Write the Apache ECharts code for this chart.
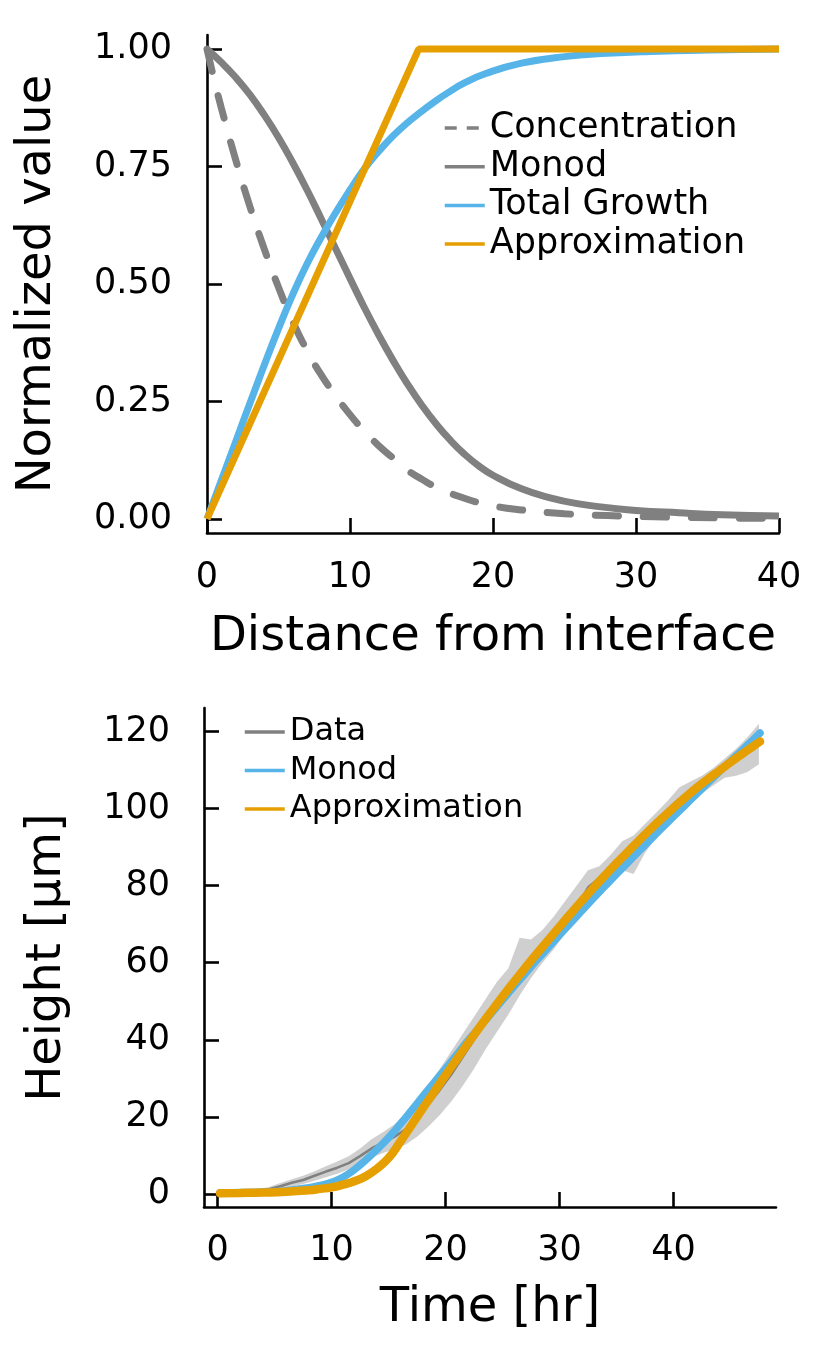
<!DOCTYPE html>
<html>
<head>
<meta charset="utf-8">
<script src="https://cdn.jsdelivr.net/npm/echarts@6/dist/echarts.min.js"></script>
<style>
html,body{margin:0;padding:0;background:#fff;}
#chart{width:813px;height:1350px;}
</style>
</head>
<body>
<div id="chart"></div>
<script>
// ---------- Top panel data ----------
const concX   = [0,0.5,1,2,3,4,5,6,7,8,9,10,11,12,13,14,15,16,18,20,22,25,28,32,36,40];
const concY   = [1.0,0.935,0.875,0.765,0.665,0.575,0.493,0.42,0.358,0.306,0.262,0.222,0.187,0.156,0.13,0.104,0.085,0.068,0.044,0.028,0.019,0.011,0.007,0.004,0.002,0.001];
const monodX  = [0,1,2,3,4,5,6,7,8,9,10,11,12,13,14,15,16,17,18,19,20,22,24,26,28,30,33,36,40];
const monodY  = [1.0,0.972,0.94,0.903,0.86,0.812,0.758,0.70,0.638,0.575,0.512,0.45,0.392,0.338,0.288,0.243,0.203,0.168,0.138,0.113,0.093,0.064,0.045,0.032,0.024,0.018,0.013,0.009,0.006];
const growthX = [0,1,2,3,4,5,6,7,8,9,10,11,12,13,14,15,16,17,18,19.5,22,25,28,31,35,40];
const growthY = [0,0.082,0.164,0.246,0.327,0.405,0.478,0.543,0.60,0.652,0.70,0.745,0.782,0.815,0.843,0.867,0.89,0.91,0.928,0.948,0.97,0.984,0.991,0.995,0.998,1.0];
const approxX = [0,14.8,40];
const approxY = [0,1,1];
const topXTicks = [0,10,20,30,40];
const topYTicks = [0,0.25,0.5,0.75,1.0];

// ---------- Bottom panel data ----------
const timeT   = [0.5,1.5,2.5,3.5,4.5,5.5,6.5,7.5,8.5,9.5,10.5,11.5,12.5,13.5,14.5,15.5,16.5,17.5,18.5,19.5,20.5,21.5,22.5,23.5,24.5,25.5,26.5,27.5,28.5,29.5,30.5,31.5,32.5,33.5,34.5,35.5,36.5,37.5,38.5,39.5,40.5,41.5,42.5,43.5,44.5,45.5,46.5,47.5];
const dataMean= [0.4,0.4,0.5,0.8,1.2,2.0,2.9,3.6,4.7,5.8,6.8,8.0,9.8,11.8,13.3,14.8,16.8,19.5,23.2,27.0,31.0,35.5,40.0,44.3,48.5,52.3,56.5,60.0,63.5,67.0,70.8,74.5,79.5,82.0,85.0,88.0,89.5,93.5,96.5,99.8,102.5,104.5,106.5,108.5,110.5,112.5,114.5,117.0];
const dataLow = [0.1,0.1,0.2,0.4,0.7,1.2,1.9,2.6,3.4,4.3,5.2,6.3,7.8,9.4,10.6,11.6,12.8,14.8,17.5,20.5,24.0,28.0,32.5,37.5,42.0,46.5,51.5,56.0,60.0,63.5,67.5,71.5,76.0,79.5,82.0,84.0,83.0,88.5,92.5,96.5,99.0,101.5,104.0,106.0,108.0,108.5,109.5,111.5];
const dataHigh= [0.7,0.7,0.8,1.2,1.8,2.8,3.8,4.7,5.9,7.2,8.4,9.8,11.8,14.2,16.0,18.0,20.8,24.2,28.5,32.5,37.0,41.5,46.0,50.5,55.0,58.5,66.5,66.0,68.5,72.0,76.0,80.0,84.0,85.0,88.0,91.5,93.0,96.0,99.0,102.0,105.5,107.0,108.5,110.5,113.0,115.5,118.5,122.0];
const fitT    = [0.2,2,4,6,8,9,10,11,12,13,14,15,16,17,18,19,20,21,22,23,24,25,26,27,28,29,30,31,32,33,34,35,36,37,38,39,40,41,42,43,44,45,46,47,47.6];
const monodFit= [0.3,0.35,0.5,0.85,1.6,2.2,3.0,4.3,6.3,8.8,11.6,14.6,18.0,21.6,25.3,28.9,32.5,36.2,39.9,43.3,46.8,50.3,53.8,57.2,60.6,63.9,67.2,70.4,73.6,76.8,79.9,83.0,86.0,89.0,92.0,95.0,97.9,100.8,103.7,106.6,109.5,112.3,115.1,117.9,119.6];
const approxFit=[0.2,0.25,0.35,0.55,0.95,1.3,1.7,2.4,3.3,4.6,6.6,9.3,13.4,17.8,22.2,26.5,30.8,35.0,39.2,43.3,47.3,51.2,55.0,58.7,62.3,65.8,69.3,72.8,76.2,79.5,82.7,85.8,88.8,91.8,94.7,97.5,100.2,102.8,105.3,107.6,109.8,112.0,114.1,116.2,117.4];
const botXTicks = [0,10,20,30,40];
const botYTicks = [0,20,40,60,80,100,120];

// ---------- helpers ----------
const zip = (xs, ys) => xs.map((x, i) => [x, ys[i]]);
const FONT = 'DejaVu Sans';
const GRAY = '#808080', BLUE = '#56B4E9', ORANGE = '#E69F00';

function axisBase(ticks, fmt, margin) {
  return {
    splitLine: {show: false},
    axisLine: {show: true, onZero: false, lineStyle: {color: '#000', width: 2.6}},
    axisTick: {show: true, inside: true, length: 15, lineStyle: {color: '#000', width: 2.6}, customValues: ticks},
    axisLabel: {customValues: ticks, formatter: fmt, fontSize: 35, fontFamily: FONT, color: '#000', margin: margin},
    nameTextStyle: {fontSize: 48, fontFamily: FONT, color: '#000'},
    nameLocation: 'middle'
  };
}

function ribbonItem(params, api) {
  if (params.dataIndex !== 0) return null;
  const pts = [];
  for (let i = 0; i < timeT.length; i++) pts.push(api.coord([timeT[i], dataHigh[i]]));
  for (let i = timeT.length - 1; i >= 0; i--) pts.push(api.coord([timeT[i], dataLow[i]]));
  return {type: 'polygon', shape: {points: pts}, style: {fill: 'rgba(128,128,128,0.38)', stroke: null}, silent: true};
}

const legendLine = {width: 3.5, cap: 'butt'};

const chart = echarts.init(document.getElementById('chart'), null, {renderer: 'canvas'});
const option = {
  backgroundColor: '#fff',
  animation: false,
  grid: [
    {left: 207, top: 35, width: 572, height: 498},
    {left: 204, top: 708, width: 572, height: 499}
  ],
  xAxis: [
    Object.assign(axisBase(topXTicks, v => String(v), 27), {type: 'value', gridIndex: 0, min: 0, max: 40, name: 'Distance from interface', nameGap: 81}),
    Object.assign(axisBase(botXTicks, v => String(v), 26), {type: 'value', gridIndex: 1, min: -1.2, max: 49.0, name: 'Time [hr]', nameGap: 78})
  ],
  yAxis: [
    Object.assign(axisBase(topYTicks, v => v.toFixed(2), 35), {type: 'value', gridIndex: 0, min: -0.03, max: 1.03, name: 'Normalized value', nameGap: 145}),
    Object.assign(axisBase(botYTicks, v => String(v), 34), {type: 'value', gridIndex: 1, min: -3.4, max: 126.1, name: 'Height [µm]', nameGap: 132})
  ],
  legend: [
    {
      orient: 'vertical', left: 443, top: 109, padding: 0, itemGap: 0.7,
      itemWidth: 40, itemHeight: 14,
      itemStyle: {opacity: 0},
      textStyle: {fontSize: 35, fontFamily: FONT, color: '#000', lineHeight: 38},
      lineStyle: legendLine,
      data: [
        {name: 'Concentration', lineStyle: {type: [12, 10], cap: 'butt', width: 3.5}},
        {name: 'Monod', lineStyle: legendLine},
        {name: 'Total Growth', lineStyle: legendLine},
        {name: 'Approximation', lineStyle: legendLine}
      ]
    },
    {
      orient: 'vertical', left: 243, top: 713, padding: 0, itemGap: 0.5,
      itemWidth: 40, itemHeight: 14,
      itemStyle: {opacity: 0},
      textStyle: {fontSize: 32, fontFamily: FONT, color: '#000', lineHeight: 38},
      lineStyle: legendLine,
      formatter: n => n.trim(),
      data: [
        {name: 'Data', lineStyle: legendLine},
        {name: 'Monod ', lineStyle: legendLine},
        {name: 'Approximation ', lineStyle: legendLine}
      ]
    }
  ],
  series: [
    {name: 'Concentration', type: 'line', xAxisIndex: 0, yAxisIndex: 0, symbol: 'none', smooth: 0.5,
     color: GRAY, lineStyle: {color: GRAY, width: 7, type: [23, 25], cap: 'round'}, data: zip(concX, concY)},
    {name: 'Monod', type: 'line', xAxisIndex: 0, yAxisIndex: 0, symbol: 'none', smooth: 0.5,
     color: GRAY, lineStyle: {color: GRAY, width: 7}, data: zip(monodX, monodY)},
    {name: 'Total Growth', type: 'line', xAxisIndex: 0, yAxisIndex: 0, symbol: 'none', smooth: 0.5,
     color: BLUE, lineStyle: {color: BLUE, width: 7}, data: zip(growthX, growthY)},
    {name: 'Approximation', type: 'line', xAxisIndex: 0, yAxisIndex: 0, symbol: 'none',
     color: ORANGE, lineStyle: {color: ORANGE, width: 7}, data: zip(approxX, approxY)},

    {name: 'ribbon', type: 'custom', xAxisIndex: 1, yAxisIndex: 1, silent: true, renderItem: ribbonItem,
     encode: {x: 0, y: [1, 2]},
     data: timeT.map((t, i) => [t, dataLow[i], dataHigh[i]])},
    {name: 'Data', type: 'line', xAxisIndex: 1, yAxisIndex: 1, symbol: 'none',
     color: GRAY, lineStyle: {color: GRAY, width: 2.5}, data: zip(timeT, dataMean)},
    {name: 'Monod ', type: 'line', xAxisIndex: 1, yAxisIndex: 1, symbol: 'none', smooth: 0.5,
     color: BLUE, lineStyle: {color: BLUE, width: 7.5, cap: 'round'}, data: zip(fitT, monodFit)},
    {name: 'Approximation ', type: 'line', xAxisIndex: 1, yAxisIndex: 1, symbol: 'none', smooth: 0.5,
     color: ORANGE, lineStyle: {color: ORANGE, width: 8.5, cap: 'round'}, data: zip(fitT, approxFit)}
  ]
};
chart.setOption(option);
</script>
</body>
</html>
